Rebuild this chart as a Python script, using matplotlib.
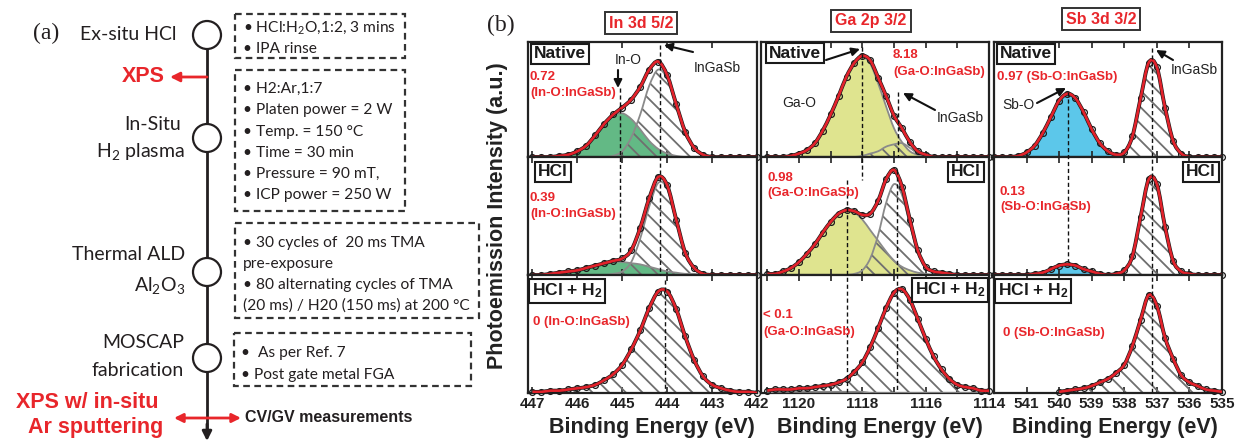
import numpy as np
import matplotlib
matplotlib.use("Agg")
import matplotlib.pyplot as plt
from matplotlib.path import Path
from matplotlib.patches import PathPatch, Circle, Rectangle
from matplotlib.transforms import blended_transform_factory

plt.rcParams['font.family'] = ['Liberation Sans', 'DejaVu Sans']
plt.rcParams['mathtext.fontset'] = 'custom'
plt.rcParams['mathtext.rm'] = 'Lato'
plt.rcParams['mathtext.bf'] = 'Liberation Sans:bold'
plt.rcParams['mathtext.default'] = 'rm'
plt.rcParams['hatch.linewidth'] = 1.3

# ---------------- data (intensities as fraction of panel height)

energy_in = [447.0, 446.8, 446.6, 446.4, 446.2, 446.0, 445.8, 445.6, 445.4, 445.2, 445.0, 444.8, 444.6,
             444.4, 444.2, 444.0, 443.8, 443.6, 443.4, 443.2, 443.0, 442.8, 442.6, 442.4, 442.2, 442.0]
in_native_oxide = [0, 0, 0, 0.01, 0.02, 0.05, 0.10, 0.19, 0.29, 0.36, 0.38, 0.33, 0.24,
                   0.14, 0.07, 0.03, 0.01, 0, 0, 0, 0, 0, 0, 0, 0, 0]
in_native_sub = [0, 0, 0, 0, 0, 0, 0, 0, 0, 0.01, 0.05, 0.17, 0.37,
                 0.62, 0.76, 0.68, 0.45, 0.22, 0.08, 0.02, 0, 0, 0, 0, 0, 0]
in_hcl_oxide = [0, 0, 0.01, 0.02, 0.03, 0.04, 0.06, 0.08, 0.10, 0.11, 0.11, 0.10, 0.09,
                0.07, 0.05, 0.03, 0.02, 0.01, 0.01, 0, 0, 0, 0, 0, 0, 0]
in_hcl_sub = [0, 0, 0, 0, 0, 0, 0, 0, 0, 0.01, 0.03, 0.11, 0.31,
              0.58, 0.78, 0.73, 0.45, 0.18, 0.05, 0.01, 0, 0, 0, 0, 0, 0]
in_h2_sub = [0.01, 0.01, 0.02, 0.02, 0.03, 0.04, 0.05, 0.07, 0.11, 0.16, 0.24, 0.37, 0.53,
             0.72, 0.86, 0.86, 0.71, 0.48, 0.28, 0.14, 0.07, 0.04, 0.02, 0.01, 0.01, 0]

energy_ga = [1121.0, 1120.75, 1120.5, 1120.25, 1120.0, 1119.75, 1119.5, 1119.25, 1119.0, 1118.75,
             1118.5, 1118.25, 1118.0, 1117.75, 1117.5, 1117.25, 1117.0, 1116.75, 1116.5, 1116.25,
             1116.0, 1115.75, 1115.5, 1115.25, 1115.0, 1114.75, 1114.5, 1114.25, 1114.0]
ga_native_oxide = [0, 0, 0, 0.01, 0.03, 0.06, 0.12, 0.23, 0.37, 0.53,
                   0.70, 0.82, 0.87, 0.81, 0.64, 0.44, 0.25, 0.13, 0.05, 0.02,
                   0.01, 0, 0, 0, 0, 0, 0, 0, 0]
ga_native_sub = [0, 0, 0, 0, 0, 0, 0, 0, 0, 0,
                 0, 0, 0.01, 0.03, 0.05, 0.09, 0.11, 0.12, 0.08, 0.03,
                 0.01, 0, 0, 0, 0, 0, 0, 0, 0]
ga_hcl_oxide = [0.01, 0.01, 0.03, 0.06, 0.11, 0.18, 0.26, 0.36, 0.45, 0.52,
                0.55, 0.53, 0.47, 0.38, 0.29, 0.20, 0.12, 0.07, 0.04, 0.02,
                0.01, 0, 0, 0, 0, 0, 0, 0, 0]
ga_hcl_sub = [0, 0, 0, 0, 0, 0, 0, 0, 0, 0,
              0, 0.01, 0.04, 0.14, 0.34, 0.61, 0.77, 0.68, 0.43, 0.19,
              0.06, 0.03, 0.02, 0.01, 0, 0, 0, 0, 0]
ga_h2_oxide = [0, 0.01, 0.01, 0.01, 0.01, 0.01, 0.01, 0.01, 0.01, 0.01,
               0.01, 0.01, 0.01, 0, 0, 0, 0, 0, 0, 0,
               0, 0, 0, 0, 0, 0, 0, 0, 0]
ga_h2_sub = [0.02, 0.02, 0.02, 0.02, 0.03, 0.03, 0.04, 0.05, 0.06, 0.08,
             0.11, 0.17, 0.25, 0.39, 0.55, 0.72, 0.85, 0.88, 0.79, 0.63,
             0.46, 0.31, 0.20, 0.12, 0.07, 0.05, 0.04, 0.02, 0.02]

energy_sb = [542.0, 541.75, 541.5, 541.25, 541.0, 540.75, 540.5, 540.25, 540.0, 539.75,
             539.5, 539.25, 539.0, 538.75, 538.5, 538.25, 538.0, 537.75, 537.5, 537.25,
             537.0, 536.75, 536.5, 536.25, 536.0, 535.75, 535.5, 535.25, 535.0]
sb_native_oxide = [0, 0, 0, 0.01, 0.04, 0.10, 0.21, 0.35, 0.49, 0.55,
                   0.51, 0.39, 0.24, 0.12, 0.05, 0.02, 0, 0, 0, 0,
                   0, 0, 0, 0, 0, 0, 0, 0, 0]
sb_native_sub = [0, 0, 0, 0, 0, 0, 0, 0, 0, 0,
                 0, 0, 0, 0, 0, 0, 0.04, 0.18, 0.51, 0.82,
                 0.78, 0.43, 0.14, 0.03, 0, 0, 0, 0, 0]
sb_hcl_oxide = [0, 0, 0, 0, 0, 0.01, 0.02, 0.05, 0.08, 0.09,
                0.08, 0.05, 0.03, 0.01, 0, 0, 0, 0, 0, 0,
                0, 0, 0, 0, 0, 0, 0, 0, 0]
sb_hcl_sub = [0, 0, 0, 0, 0, 0, 0, 0, 0, 0,
              0, 0, 0, 0, 0, 0.01, 0.04, 0.16, 0.49, 0.81,
              0.77, 0.41, 0.12, 0.03, 0.01, 0, 0, 0, 0]
sb_h2_sub = [np.nan, np.nan, np.nan, np.nan, np.nan, np.nan, np.nan, np.nan, 0.01, 0.02,
             0.03, 0.04, 0.06, 0.09, 0.12, 0.17, 0.24, 0.40, 0.62, 0.83,
             0.74, 0.47, 0.29, 0.15, 0.09, 0.06, 0.03, 0.02, 0.01]

in_ticks = [447, 446, 445, 444, 443, 442]
ga_ticks = [1120, 1118, 1116, 1114]
ga_minor = [1121, 1119, 1117, 1115]
sb_ticks = [541, 540, 539, 538, 537, 536, 535]

titles = ["In 3d 5/2", "Ga 2p 3/2", "Sb 3d 3/2"]
oxide_colors = ["#63b985", "#dfe48f", "#5cc7ea"]

RED = "#e8262b"
INK = "#231f20"

# ---------------- helpers

def smooth_path(x, y, closed=False):
    # Catmull-Rom curve through the read points, drawn as cubic bezier
    x = np.asarray(x, float)
    y = np.asarray(y, float)
    ok = np.isfinite(y)
    p = np.column_stack([x[ok], y[ok]])
    n = len(p)
    verts = [p[0]]
    codes = [Path.MOVETO]
    for i in range(n - 1):
        p0 = p[max(i - 1, 0)]
        p1, p2 = p[i], p[i + 1]
        p3 = p[min(i + 2, n - 1)]
        verts += [p1 + (p2 - p0) / 6.0, p2 - (p3 - p1) / 6.0, p2]
        codes += [Path.CURVE4] * 3
    if closed:
        verts += [(p[-1, 0], 0.0), (p[0, 0], 0.0), (p[0, 0], 0.0)]
        codes += [Path.LINETO, Path.LINETO, Path.CLOSEPOLY]
    return Path(verts, codes)


def draw_spectrum(ax, energy, oxide, sub, color):
    sub = np.asarray(sub, float)
    total = sub.copy()
    if oxide is not None:
        oxide = np.asarray(oxide, float)
        total = total + oxide
        ax.add_patch(PathPatch(smooth_path(energy, oxide, True), fc=color, ec='none', zorder=1))
    ax.add_patch(PathPatch(smooth_path(energy, sub, True), fc='none', ec='#6f6f6f', lw=0,
                           hatch='\\\\', zorder=2))
    for comp in (oxide, sub):
        if comp is not None:
            ax.add_patch(PathPatch(smooth_path(energy, comp), fc='none', ec='#8a8a8a', lw=1.3, zorder=3))
    ax.add_patch(PathPatch(smooth_path(energy, total), fc='none', ec='#1a1a1a', lw=2.8, zorder=4))
    ax.plot(energy, total, 'o', ms=4.2, mfc='none', mec='#1a1a1a', mew=0.9, zorder=4, clip_on=False)
    ax.add_patch(PathPatch(smooth_path(energy, total), fc='none', ec='#e3222b', lw=1.9, zorder=5))


# ---------------- figure

W, H = 1238, 441
fig = plt.figure(figsize=(W / 100, H / 100), dpi=100)


def px_axes(left, top, width, height):
    return fig.add_axes([left / W, 1 - (top + height) / H, width / W, height / H])


col_left = [528, 761, 994]
col_width = [229, 228, 228]
row_top = [42, 157, 275]
row_height = [115, 118, 118]

columns = [
    (energy_in, (447.1, 442.0), in_ticks, None, [(in_native_oxide, in_native_sub),
                                                 (in_hcl_oxide, in_hcl_sub), (None, in_h2_sub)]),
    (energy_ga, (1121.2, 1114.0), ga_ticks, ga_minor, [(ga_native_oxide, ga_native_sub),
                                                      (ga_hcl_oxide, ga_hcl_sub), (ga_h2_oxide, ga_h2_sub)]),
    (energy_sb, (542.0, 535.0), sb_ticks, None, [(sb_native_oxide, sb_native_sub),
                                                (sb_hcl_oxide, sb_hcl_sub), (None, sb_h2_sub)]),
]

axes = []
for c, (energy, xlim, ticks, minor, rows) in enumerate(columns):
    col_axes = []
    for r, (ox, sub) in enumerate(rows):
        ax = px_axes(col_left[c], row_top[r], col_width[c], row_height[r])
        draw_spectrum(ax, energy, ox, sub, oxide_colors[c])
        ax.set_xlim(*xlim)
        ax.set_ylim(0, 1)
        ax.set_yticks([])
        ax.set_xticks(ticks, labels=[str(t) for t in ticks], fontweight='bold')
        if minor is not None:
            ax.set_xticks(minor, minor=True)
        ax.tick_params(axis='x', which='both', direction='in', top=True, bottom=True, length=4,
                       width=1.2, labelbottom=(r == 2), labelsize=11, pad=3, colors='#222222')
        for s in ax.spines.values():
            s.set_linewidth(1.6)
            s.set_color('#222222')
        col_axes.append(ax)
    axes.append(col_axes)

# overlay in pixel coordinates for labels, annotations and the process flow
ax0 = fig.add_axes([0, 0, 1, 1])
ax0.set_xlim(0, W)
ax0.set_ylim(H, 0)
ax0.axis('off')


def vline(ax, e, y0, y1, color='#111111'):
    tr = blended_transform_factory(ax.transData, ax0.transData)
    ax0.plot([e, e], [y0, y1], transform=tr, color=color, lw=1.0, ls=(0, (3, 2)), zorder=6, clip_on=False)


vline(axes[0][0], 445.05, 88, 255)
vline(axes[0][0], 444.17, 45, 275)
vline(axes[0][0], 444.06, 280, 392)
vline(axes[1][0], 1118.0, 47, 180)
vline(axes[1][0], 1116.86, 92, 157)
vline(axes[1][0], 1118.47, 180, 392)
vline(axes[1][0], 1116.92, 170, 392)
vline(axes[2][0], 539.72, 92, 262)
vline(axes[2][0], 537.15, 48, 392)


def boxed(x, y, s):
    ax0.text(x, y, s, ha='center', va='center', fontsize=12.5, fontweight='bold', color='#1a1a1a',
             zorder=8, bbox=dict(boxstyle='square,pad=0.16', fc='white', ec='#1a1a1a', lw=1.5))


for x, y, s in [(560, 54, "Native"), (553, 172, "HCl"), (567, 291, r"HCl + H$_\mathbf{2}$"),
                (795, 53, "Native"), (966, 172, "HCl"), (950, 290, r"HCl + H$_\mathbf{2}$"),
                (1026, 54, "Native"), (1201, 172, "HCl"), (1033, 291, r"HCl + H$_\mathbf{2}$")]:
    boxed(x, y, s)

for x, y, s in [(641, 23, titles[0]), (871, 21, titles[1]), (1101, 19, titles[2])]:
    ax0.text(x, y, s, ha='center', va='center', fontsize=11.5, fontweight='bold', color=RED,
             bbox=dict(boxstyle='square,pad=0.25', fc='white', ec='#333333', lw=1.4))

red_notes = [(530, 77, "0.72"), (530, 93, "(In-O:InGaSb)"), (530, 198, "0.39"), (530, 214, "(In-O:InGaSb)"),
             (533, 322, "0 (In-O:InGaSb)"),
             (893, 55, "8.18"), (893, 72, "(Ga-O:InGaSb)"), (767, 178, "0.98"), (767, 193, "(Ga-O:InGaSb)"),
             (763, 315, "< 0.1"), (763, 332, "(Ga-O:InGaSb)"),
             (997, 77, "0.97 (Sb-O:InGaSb)"), (1000, 192, "0.13"), (1000, 207, "(Sb-O:InGaSb)"),
             (1003, 333, "0 (Sb-O:InGaSb)")]
for x, y, s in red_notes:
    ax0.text(x, y, s, ha='left', va='center', fontsize=9.5, fontweight='bold', color=RED, zorder=8)

for x, y, s in [(628, 60, "In-O"), (717, 68, "InGaSb"), (799, 103, "Ga-O"), (960, 118, "InGaSb"),
                (1018, 105, "Sb-O"), (1194, 70, "InGaSb")]:
    ax0.text(x, y, s, ha='center', va='center', fontsize=10, color='#222222', zorder=8)

for (x0, y0), (x1, y1) in [((618, 70), (618, 88)), ((693, 52), (664, 45)), ((826, 60), (860, 49)),
                           ((935, 110), (903, 93)), ((1037, 103), (1066, 88)), ((1173, 60), (1156, 50))]:
    ax0.annotate('', xy=(x1, y1), xytext=(x0, y0),
                 arrowprops=dict(arrowstyle='-|>', color='#111111', lw=1.5, mutation_scale=12,
                                 shrinkA=0, shrinkB=0), zorder=8)

ax0.text(501, 25, "(b)", ha='center', va='center', fontsize=17, family='Liberation Serif', color=INK)
ax0.text(498, 216, "Photoemission Intensity (a.u.)", rotation=90, ha='center', va='center',
         fontsize=15.5, fontweight='bold', color='#222222')
for x in (652, 880, 1115):
    ax0.text(x, 428, "Binding Energy (eV)", ha='center', va='center', fontsize=15.5,
             fontweight='bold', color='#222222')

# ---------------- (a) process flow

ax0.text(46, 33, "(a)", ha='center', va='center', fontsize=17, family='Liberation Serif', color=INK)
ax0.plot([207, 207], [35, 430], color=INK, lw=2, zorder=2)
ax0.annotate('', xy=(207, 441), xytext=(207, 424),
             arrowprops=dict(arrowstyle='-|>', color=INK, lw=2, mutation_scale=14, shrinkA=0, shrinkB=0))
for cy in (35, 138, 272, 358):
    ax0.add_patch(Circle((207, cy), 14, fc='white', ec=INK, lw=1.6, zorder=3))

step_labels = [(177, 35, "Ex-situ HCl"), (181, 125, "In-Situ"), (185, 152, "H$_2$ plasma"),
               (185, 255, "Thermal ALD"), (185, 286, "Al$_2$O$_3$"), (184, 343, "MOSCAP"),
               (184, 370, "fabrication")]
for x, y, s in step_labels:
    ax0.text(x, y, s, ha='right', va='center', fontsize=14, family='Lato', color=INK)

for x, y, w, h in [(235, 14, 170, 44), (235, 70, 170, 141), (235, 223, 244, 95), (234, 333, 237, 53)]:
    ax0.add_patch(Rectangle((x, y), w, h, fill=False, ec='#333333', lw=1.6, ls=(0, (3, 2))))

box_lines = [(243, 28, "• HCl:H$_2$O,1:2, 3 mins"), (243, 49, "• IPA rinse"),
             (243, 89, "• H2:Ar,1:7"), (243, 110, "• Platen power = 2 W"), (243, 132, "• Temp. = 150 °C"),
             (243, 153, "• Time = 30 min"), (243, 174, "• Pressure = 90 mT,"), (243, 195, "• ICP power = 250 W"),
             (243, 243, "• 30 cycles of  20 ms TMA"), (243, 264, "pre-exposure"),
             (243, 285, "• 80 alternating cycles of TMA"), (243, 306, "(20 ms) / H20 (150 ms) at 200 °C"),
             (241, 353, "•  As per Ref. 7"), (241, 375, "• Post gate metal FGA")]
for x, y, s in box_lines:
    ax0.text(x, y, s, ha='left', va='center', fontsize=11.2, family='Lato', color=INK)

ax0.text(165, 77, "XPS", ha='right', va='center', fontsize=15.5, fontweight='bold', color=RED)
ax0.annotate('', xy=(170, 77), xytext=(207, 77),
             arrowprops=dict(arrowstyle='-|>', color=RED, lw=2, mutation_scale=14, shrinkA=0, shrinkB=0))
ax0.text(158, 403, "XPS w/ in-situ", ha='right', va='center', fontsize=15.5, fontweight='bold', color=RED)
ax0.text(163, 428, "Ar sputtering", ha='right', va='center', fontsize=15.5, fontweight='bold', color=RED)
ax0.annotate('', xy=(241, 418), xytext=(174, 418),
             arrowprops=dict(arrowstyle='<|-|>', color=RED, lw=2, mutation_scale=13, shrinkA=0, shrinkB=0))
ax0.text(245, 418, "CV/GV measurements", ha='left', va='center', fontsize=11.5, fontweight='bold', color=INK)

fig.savefig("out.png", dpi=100)
